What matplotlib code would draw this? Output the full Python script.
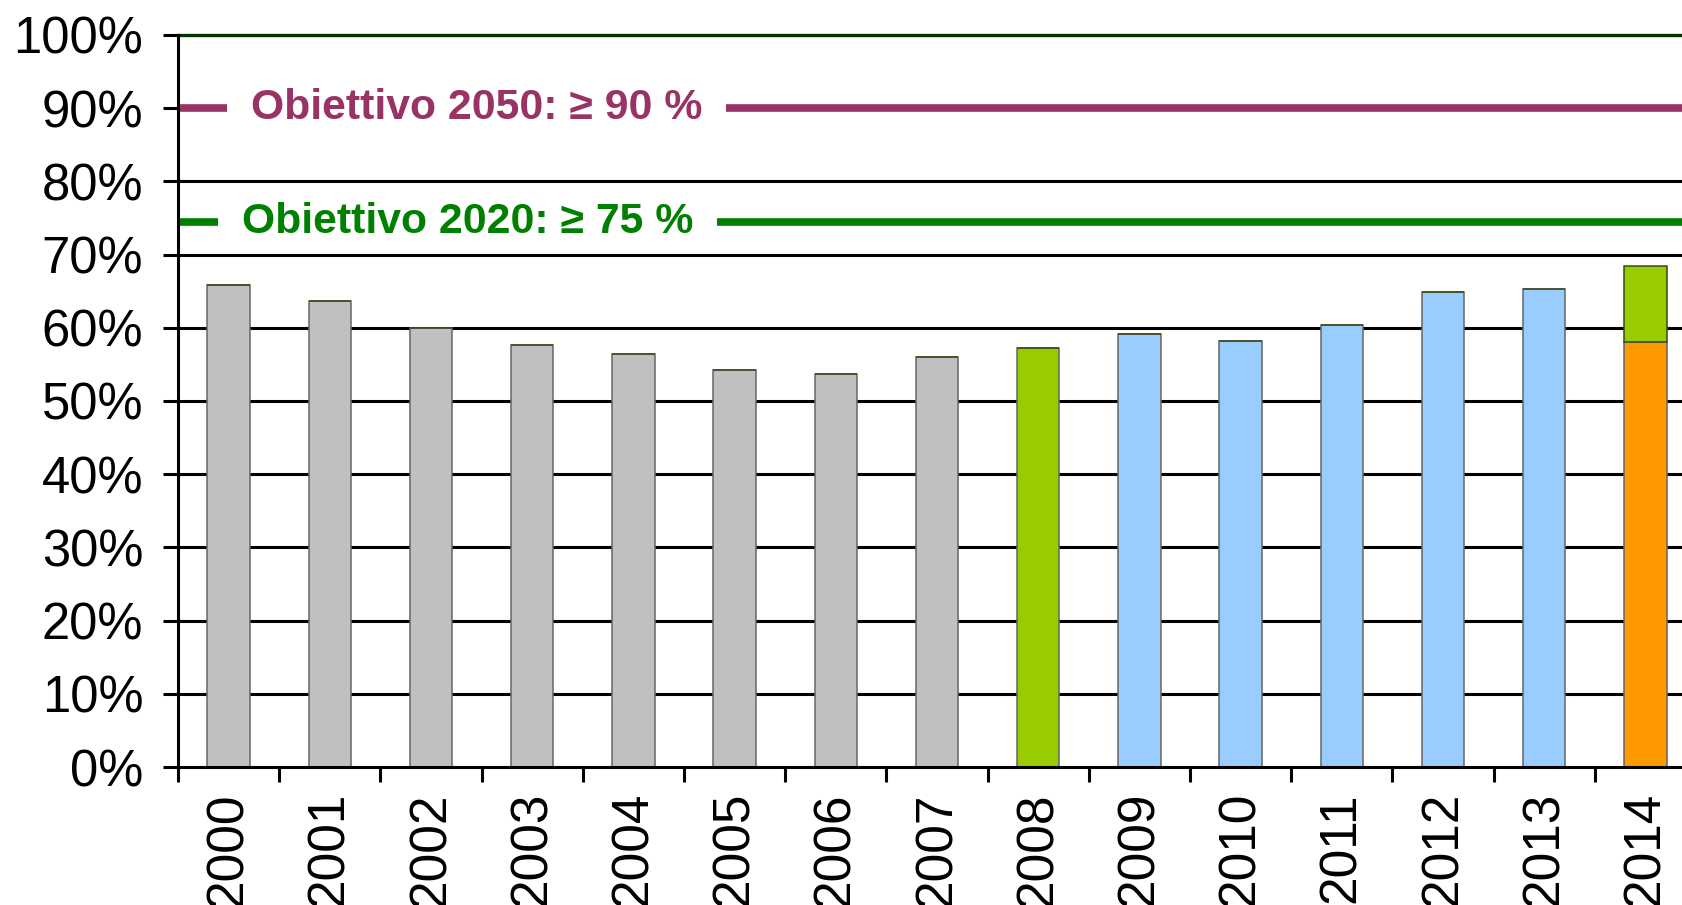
import matplotlib.pyplot as plt
import numpy as np

plt.rcParams['font.family'] = ['Liberation Sans', 'DejaVu Sans']

years = [str(y) for y in range(2000, 2015)]
base = [65.8, 63.6, 60.0, 57.7, 56.4, 54.2, 53.7, 56.0, 57.3, 59.1, 58.2, 60.4, 64.9, 65.3, 58.1]
top_2014 = [0, 0, 0, 0, 0, 0, 0, 0, 0, 0, 0, 0, 0, 0, 10.4]
bar_colors = ['#C0C0C0'] * 8 + ['#99CC00'] + ['#99CCFF'] * 5 + ['#FF9900']

targets = [90, 74.5]
target_labels = ['Obiettivo 2050: \u2265 90 %', 'Obiettivo 2020: \u2265 75 %']
target_colors = ['#993366', '#008000']
target_text_x = [0.22, 0.13]
grid_levels = [10, 20, 30, 40, 50, 60, 70, 80]

W, H = 1682, 905
fig = plt.figure(figsize=(W / 100, H / 100), dpi=100)
# axis runs from x=178 to past the right edge (chart is cropped), y from 767 to 35
ax = fig.add_axes([178 / W, 138 / H, 1518 / W, 732 / H])

x = np.arange(len(years))
ax.bar(x, base, width=0.42, color=bar_colors, edgecolor='#666666', linewidth=1.1, zorder=4)
ax.bar(x, top_2014, bottom=base, width=0.42, color='#99CC00', edgecolor='#3a4a10',
       linewidth=1.1, zorder=4)

for lvl in grid_levels:
    ax.axhline(lvl, color='black', lw=2.2, zorder=3)
ax.axhline(100, color='#003300', lw=2.4, zorder=3, clip_on=False)

for val, lab, col, tx in zip(targets, target_labels, target_colors, target_text_x):
    ax.axhline(val, color=col, lw=5.5, zorder=1)
    ax.text(tx, val, lab, color=col, fontsize=30.8, fontweight='bold', va='center', ha='left',
            zorder=2, bbox=dict(boxstyle='square,pad=0.55', fc='white', ec='none'))

ax.set_xlim(-0.5, 14.5)
ax.set_ylim(0, 100)
ax.set_yticks(np.arange(0, 101, 10))
ax.set_yticklabels([f'{v}%' for v in range(0, 101, 10)])
ax.set_xticks(x)
ax.set_xticklabels(years, rotation=90)
ax.set_xticks(np.arange(-0.5, 15, 1), minor=True)

ax.tick_params(axis='y', length=11, width=2.2, labelsize=36.5, pad=14)
ax.tick_params(axis='x', which='major', length=0, labelsize=37, pad=18)
ax.tick_params(axis='x', which='minor', length=11, width=2.2)

for s in ['top', 'right']:
    ax.spines[s].set_visible(False)
for s in ['left', 'bottom']:
    ax.spines[s].set_linewidth(2.2)
ax.spines['left'].set_zorder(5)
ax.spines['bottom'].set_zorder(5)

fig.savefig('out.png', dpi=100)
